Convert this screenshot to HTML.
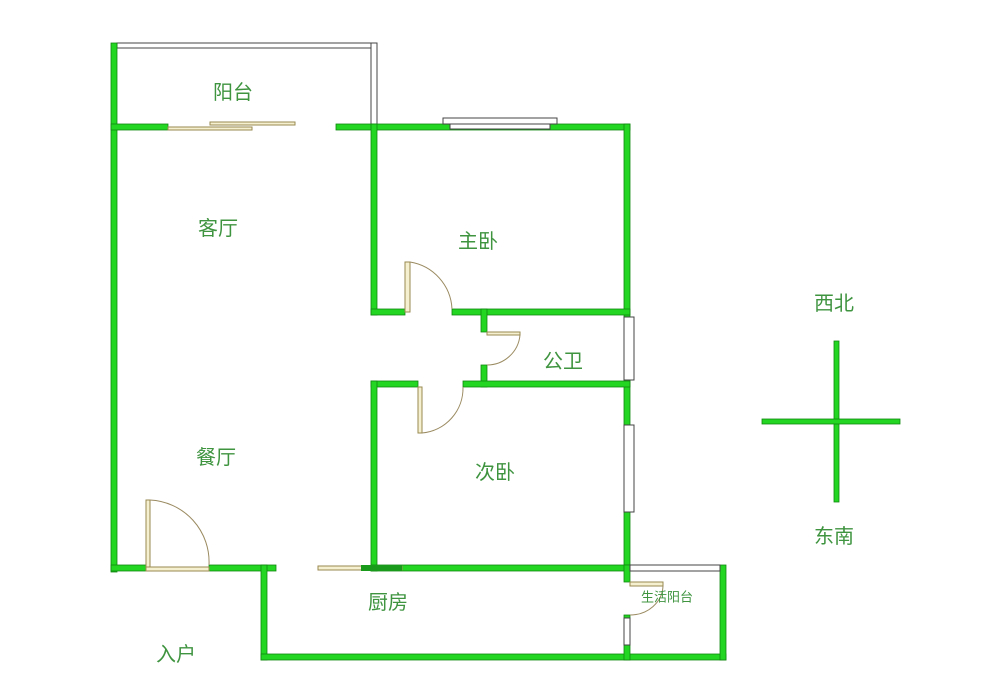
<!DOCTYPE html>
<html><head><meta charset="utf-8"><style>
html,body{margin:0;padding:0;background:#fff;}
svg{display:block}
text{font-family:"Liberation Sans","Noto Sans CJK SC",sans-serif;fill:#3f9440;font-size:20px;text-anchor:middle;dominant-baseline:central}
</style></head><body>
<svg width="1000" height="693" viewBox="0 0 1000 693" xmlns="http://www.w3.org/2000/svg">
<g fill="#22d622" stroke="#117711" stroke-width="0.8">
<!-- balcony thin frame -->
</g>
<rect x="117" y="43" width="260" height="5" fill="#fff" stroke="#444" stroke-width="1"/>
<rect x="371" y="43" width="6" height="84" fill="#fff" stroke="#444" stroke-width="1"/>
<g fill="#22d622" stroke="#118811" stroke-width="0.8">
<rect x="111" y="43" width="6" height="529"/>
<rect x="111" y="124" width="57" height="6"/>
<rect x="336" y="124" width="294" height="6"/>
<rect x="624" y="124" width="6" height="447"/>
<rect x="371" y="124" width="6" height="191"/>
<rect x="371" y="309" width="34" height="6"/>
<rect x="452" y="309" width="178" height="6"/>
<rect x="481" y="309" width="6" height="23"/>
<rect x="481" y="365" width="6" height="22"/>
<rect x="371" y="381" width="47" height="6"/>
<rect x="463" y="381" width="167" height="6"/>
<rect x="371" y="381" width="6" height="190"/>
<rect x="111" y="565" width="35" height="6"/>
<rect x="209" y="565" width="67" height="6"/>
<rect x="371" y="565" width="259" height="6"/>
<rect x="261" y="565" width="6" height="95"/>
<rect x="261" y="654" width="465" height="6"/>
<rect x="720" y="565" width="6" height="95"/>
<rect x="624" y="565" width="6" height="17"/>
<rect x="624" y="615" width="6" height="45"/>
<rect x="834" y="341" width="5" height="161"/>
<rect x="762" y="419" width="138" height="5"/>
</g>
<!-- windows -->
<g fill="#fff" stroke="#444" stroke-width="1">
<rect x="443" y="118" width="114" height="6"/>
<rect x="450" y="124" width="100" height="5"/>
<rect x="624" y="317" width="10" height="63"/>
<rect x="624" y="425" width="10" height="87"/>
<rect x="624" y="618" width="6" height="27"/>
<rect x="630" y="565" width="90" height="6"/>
</g>
<!-- doors -->
<g fill="#f4f0d0" stroke="#9a8a50" stroke-width="1">
<rect x="168" y="127" width="84" height="3"/>
<rect x="210" y="122" width="85" height="3"/>
<rect x="405" y="262" width="5" height="50"/>
<rect x="487" y="332" width="33" height="3"/>
<rect x="418" y="387" width="4" height="46"/>
<rect x="146" y="500" width="4" height="71"/>
<rect x="146" y="567" width="63" height="4"/>
<rect x="318" y="566" width="84" height="4"/>
<rect x="630" y="582" width="33" height="4"/>
</g>
<rect x="361" y="565" width="41" height="6" fill="#1a9a1a"/>
<g fill="none" stroke="#9a8a60" stroke-width="1">
<path d="M410 262 A50 50 0 0 1 452 309"/>
<path d="M520 335 A33 33 0 0 1 487 365"/>
<path d="M422 433 A45 45 0 0 0 463 387"/>
<path d="M150 500 A62 62 0 0 1 209 565"/>
<path d="M663 586 A33 30 0 0 1 630 615"/>
</g>
<text x="233" y="93">阳台</text>
<text x="218" y="229">客厅</text>
<text x="478" y="242">主卧</text>
<text x="563" y="362">公卫</text>
<text x="216" y="458">餐厅</text>
<text x="495" y="473">次卧</text>
<text x="388" y="603">厨房</text>
<text x="667" y="597" style="font-size:13px">生活阳台</text>
<text x="176" y="655">入户</text>
<text x="834" y="304">西北</text>
<text x="834" y="537">东南</text>
</svg>
</body></html>
